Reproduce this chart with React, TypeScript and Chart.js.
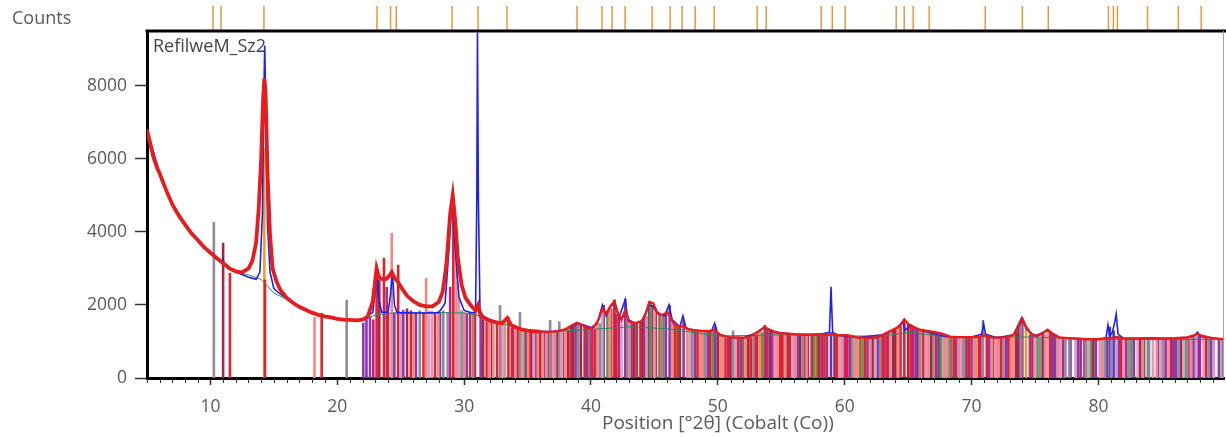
import { useEffect, useRef } from 'react';
import { Chart, registerables } from 'chart.js';

Chart.register(...registerables);

const sampleName = 'RefilweM_Sz2';
const countsLabel = 'Counts';
const xTitle = 'Position [°2θ] (Cobalt (Co))';

const xMin = 5;
const xMax = 89.9;
const yMax = 9500;
const xTickValues = [10, 20, 30, 40, 50, 60, 70, 80];
const yTickValues = [0, 2000, 4000, 6000, 8000];

// reference-pattern markers drawn above the plot
const markerPositions = [
  10.2, 10.83, 14.22, 23.13, 24.2, 24.65, 29.05, 31.1, 33.38, 38.9, 40.87, 41.66, 42.69,
  44.82, 46.24, 47.18, 48.21, 49.71, 53.1, 53.81, 58.15, 59.02, 60.04, 64.06, 64.69, 65.4,
  66.66, 71.08, 74.0, 76.05, 80.79, 81.18, 81.5, 83.87, 86.3, 88.1,
];

// observed pattern [2θ, counts]
const observed: [number, number][] = [
  [5.0, 6800], [5.2, 6500], [5.5, 6050], [5.8, 5750], [6.0, 5600], [6.5, 5150], [7.0, 4750],
  [7.5, 4450], [8.0, 4200], [8.5, 3960], [9.0, 3780], [9.5, 3580], [10.0, 3430], [10.5, 3280],
  [11.0, 3150], [11.5, 3000], [12.0, 2920], [12.5, 2890], [13.0, 3000], [13.3, 3200],
  [13.6, 3700], [13.8, 4600], [14.0, 6000], [14.15, 7600], [14.25, 8200], [14.35, 7800],
  [14.5, 5600], [14.7, 3900], [14.9, 3000], [15.2, 2650], [15.5, 2420], [16.0, 2200],
  [16.5, 2060], [17.0, 1950], [17.5, 1870], [18.0, 1790], [18.5, 1730], [19.0, 1690],
  [19.5, 1660], [20.0, 1620], [20.5, 1600], [21.0, 1590], [21.5, 1580], [22.0, 1600],
  [22.4, 1680], [22.8, 2100], [23.1, 3000], [23.3, 2750], [23.6, 2700], [23.9, 2720],
  [24.2, 2850], [24.3, 2900], [24.5, 2750], [24.8, 2620], [25.0, 2500], [25.5, 2250],
  [26.0, 2100], [26.5, 2000], [27.0, 1960], [27.5, 1960], [28.0, 2080], [28.3, 2350],
  [28.6, 3100], [28.9, 4500], [29.1, 5000], [29.3, 4300], [29.5, 3300], [29.8, 2550],
  [30.1, 2200], [30.5, 2000], [30.9, 1850], [31.1, 2000], [31.3, 1700], [31.8, 1600],
  [32.5, 1520], [33.0, 1500], [33.4, 1640], [33.7, 1450], [34.0, 1400], [34.5, 1330],
  [35.0, 1300], [35.5, 1280], [36.0, 1270], [36.5, 1260], [37.0, 1270], [37.5, 1290],
  [38.0, 1340], [38.5, 1440], [38.9, 1510], [39.3, 1450], [39.7, 1370], [40.2, 1380],
  [40.6, 1600], [40.9, 1900], [41.2, 1750], [41.5, 1950], [41.85, 2100], [42.1, 1800],
  [42.4, 1600], [42.7, 1850], [43.0, 1550], [43.5, 1500], [44.0, 1560], [44.3, 1750],
  [44.6, 2080], [44.9, 2050], [45.2, 1800], [45.6, 1720], [46.0, 1800], [46.2, 1700],
  [46.6, 1450], [47.0, 1400], [47.3, 1420], [47.7, 1330], [48.2, 1300], [48.8, 1290],
  [49.3, 1280], [49.7, 1320], [50.2, 1180], [50.8, 1120], [51.5, 1110], [52.0, 1100],
  [52.5, 1120], [53.0, 1230], [53.4, 1320], [53.7, 1400], [54.0, 1330], [54.5, 1260],
  [55.0, 1230], [56.0, 1200], [57.0, 1180], [58.0, 1200], [58.5, 1180], [59.0, 1200],
  [59.5, 1170], [60.2, 1170], [61.0, 1110], [62.0, 1100], [62.5, 1110], [63.0, 1180],
  [63.5, 1270], [64.0, 1350], [64.4, 1450], [64.7, 1600], [65.0, 1480], [65.4, 1400],
  [65.8, 1330], [66.3, 1300], [67.0, 1260], [67.6, 1220], [68.3, 1130], [69.0, 1120],
  [70.0, 1120], [70.7, 1130], [71.0, 1180], [71.4, 1120], [72.0, 1100], [72.8, 1120],
  [73.3, 1180], [73.7, 1400], [74.0, 1620], [74.3, 1400], [74.7, 1200], [75.2, 1150],
  [75.7, 1250], [76.0, 1320], [76.4, 1200], [77.0, 1100], [78.0, 1080], [79.0, 1060],
  [80.0, 1060], [80.5, 1080], [81.0, 1100], [81.5, 1120], [82.0, 1080], [83.0, 1080],
  [84.0, 1090], [85.0, 1080], [86.0, 1090], [87.0, 1110], [87.8, 1200], [88.2, 1150],
  [89.0, 1090], [89.9, 1060],
];

// calculated profile [2θ, counts]
const calculated: [number, number][] = [
  [5.0, 6800], [6.0, 5600], [7.0, 4750], [8.0, 4200], [9.0, 3780], [10.0, 3430], [10.9, 3150],
  [11.0, 3250], [11.1, 3100], [12.0, 2900], [13.0, 2760], [13.6, 2700], [13.9, 2900],
  [14.1, 4500], [14.2, 7500], [14.28, 9100], [14.38, 7000], [14.5, 4200], [14.7, 2900],
  [15.0, 2450], [15.5, 2300], [16.0, 2180], [17.0, 1950], [18.0, 1790], [19.0, 1690],
  [20.0, 1620], [21.0, 1590], [22.0, 1600], [22.5, 1720], [22.8, 1800], [23.0, 2400],
  [23.1, 3000], [23.25, 2200], [23.5, 1800], [24.0, 1800], [24.2, 2300], [24.35, 2900],
  [24.5, 2000], [24.7, 1800], [25.0, 1790], [26.0, 1780], [27.0, 1780], [28.0, 1790],
  [28.5, 2050], [28.8, 3500], [29.05, 5000], [29.3, 3500], [29.6, 2200], [30.0, 1850],
  [30.5, 1790], [30.9, 1800], [31.0, 5000], [31.05, 9450], [31.12, 5000], [31.25, 1850],
  [31.5, 1700], [32.0, 1600], [33.0, 1500], [33.4, 1630], [33.7, 1450], [34.0, 1400],
  [35.0, 1300], [36.0, 1270], [37.0, 1270], [38.0, 1330], [39.0, 1500], [40.0, 1380],
  [40.5, 1500], [40.9, 2000], [41.2, 1700], [41.5, 1950], [41.85, 2050], [42.2, 1650],
  [42.7, 2150], [42.9, 1600], [43.5, 1500], [44.0, 1550], [44.6, 2000], [44.9, 1950],
  [45.3, 1750], [45.8, 1700], [46.15, 2000], [46.4, 1600], [47.0, 1400], [47.25, 1700],
  [47.5, 1350], [48.5, 1300], [49.5, 1280], [49.75, 1500], [50.0, 1200], [51.0, 1110],
  [52.0, 1100], [53.0, 1230], [53.7, 1380], [54.5, 1250], [56.0, 1200], [58.0, 1190],
  [58.8, 1250], [58.92, 2500], [59.05, 1250], [59.5, 1170], [61.0, 1110], [63.0, 1180],
  [64.0, 1340], [64.6, 1550], [64.75, 1300], [65.2, 1450], [66.0, 1300], [68.0, 1130],
  [70.0, 1120], [70.8, 1200], [70.95, 1480], [71.1, 1200], [72.0, 1100], [73.3, 1180],
  [73.95, 1650], [74.3, 1350], [75.0, 1150], [76.0, 1300], [77.0, 1100], [80.0, 1060],
  [80.6, 1100], [80.75, 1450], [80.9, 1150], [81.1, 1250], [81.3, 1550], [81.4, 1750],
  [81.55, 1200], [82.0, 1080], [84.0, 1090], [86.0, 1090], [87.5, 1130], [87.8, 1250],
  [88.1, 1130], [89.9, 1060],
];

// background [2θ, counts]
const background: [number, number][] = [
  [5.0, 6800], [6.0, 5600], [7.0, 4750], [8.0, 4200], [9.0, 3780], [10.0, 3430], [11.0, 3100],
  [12.0, 2900], [13.0, 2820], [14.0, 2700], [15.0, 2330], [16.0, 2150], [17.0, 1950],
  [18.0, 1790], [19.0, 1690], [20.0, 1620], [21.0, 1590], [22.0, 1600], [23.0, 1720],
  [24.0, 1770], [26.0, 1780], [28.0, 1790], [30.0, 1780], [31.0, 1720], [32.0, 1600],
  [33.0, 1500], [35.0, 1300], [37.0, 1270], [40.0, 1330], [43.0, 1400], [46.0, 1350],
  [50.0, 1150], [55.0, 1180], [60.0, 1150], [63.0, 1150], [65.0, 1250], [68.0, 1130],
  [75.0, 1120], [80.0, 1060], [89.9, 1060],
];

// reference sticks [2θ, height] by colour group
const sticksGray: [number, number][] = [
  [10.27, 4270], [20.74, 2140], [26.5, 1850], [28.36, 1850], [28.7, 1800], [29.8, 1850],
  [30.7, 1780], [32.83, 2000], [34.4, 1810], [36.78, 1590], [37.5, 1550], [39.0, 1480],
  [40.7, 1500], [45.6, 1700], [48.0, 1350], [49.0, 1280], [51.2, 1300], [52.8, 1150],
  [56.7, 1180], [60.6, 1150], [62.8, 1130], [65.9, 1300], [67.0, 1200], [68.2, 1100],
  [69.4, 1100], [70.9, 1590], [72.5, 1080], [73.9, 1500], [75.4, 1100], [77.4, 1060],
  [77.7, 1060], [79.0, 1040], [80.5, 1050], [81.0, 1090], [82.4, 1050], [84.0, 1080],
  [85.1, 1050], [86.3, 1060], [87.0, 1090], [88.7, 1060], [89.8, 1040],
];
const sticksRed: [number, number][] = [
  [11.54, 2880], [14.3, 2700], [18.77, 1780], [23.1, 3100], [23.68, 3290], [24.0, 1800],
  [24.8, 3100], [25.8, 1850], [26.8, 1800], [27.7, 1780], [29.15, 4880], [30.47, 1800],
  [30.86, 1780], [31.78, 1550], [32.6, 1500], [33.49, 1670], [33.76, 1380], [34.2, 1350],
  [35.2, 1280], [35.9, 1250], [36.9, 1260], [37.8, 1270], [38.4, 1400], [39.5, 1400],
  [40.3, 1350], [41.6, 1900], [42.0, 1750], [43.6, 1480], [43.9, 1530], [44.9, 2000],
  [45.1, 1900], [46.6, 1420], [46.9, 1380], [47.9, 1310], [48.4, 1280], [49.4, 1260],
  [50.6, 1100], [50.9, 1110], [51.6, 1100], [52.6, 1100], [52.9, 1180], [53.1, 1200],
  [53.7, 1450], [54.9, 1220], [55.1, 1220], [55.7, 1200], [56.9, 1170], [57.4, 1180],
  [58.2, 1180], [58.6, 1180], [59.4, 1160], [60.2, 1150], [61.6, 1100], [62.9, 1150],
  [63.0, 1150], [63.3, 1200], [64.4, 1420], [64.7, 1560], [65.2, 1430], [66.2, 1280],
  [67.2, 1240], [68.6, 1110], [69.3, 1110], [69.8, 1100], [70.6, 1110], [71.2, 1150],
  [71.7, 1100], [72.3, 1100], [73.0, 1110], [74.8, 1180], [76.2, 1250], [78.9, 1060],
  [81.8, 1080], [85.7, 1080], [88.5, 1120],
];
const sticksSalmon: [number, number][] = [
  [18.2, 1670], [24.29, 3970], [26.0, 1780], [27.0, 2740], [27.97, 1850], [29.4, 3700],
  [30.0, 1800], [31.95, 1600], [32.3, 1550], [33.2, 1480], [34.05, 1400], [34.6, 1320],
  [35.04, 1280], [35.8, 1260], [36.2, 1250], [36.5, 1250], [37.17, 1260], [38.0, 1330],
  [40.5, 1500], [41.5, 1900], [43.0, 1540], [44.4, 1700], [46.4, 1550], [47.6, 1320],
  [48.6, 1280], [48.8, 1270], [50.2, 1150], [50.4, 1140], [52.2, 1090], [53.3, 1300],
  [54.7, 1240], [55.3, 1210], [56.1, 1190], [57.0, 1180], [59.8, 1150], [60.8, 1120],
  [61.0, 1100], [62.0, 1100], [63.6, 1250], [64.2, 1380], [66.0, 1300], [66.6, 1250],
  [67.8, 1180], [68.0, 1140], [69.0, 1100], [70.2, 1100], [70.4, 1110], [71.6, 1100],
  [72.1, 1090], [73.1, 1120], [73.3, 1150], [75.8, 1200], [76.8, 1100], [80.3, 1060],
  [83.5, 1060], [84.6, 1080], [87.3, 1100],
];
const sticksMaroon: [number, number][] = [
  [11.0, 3700], [23.31, 2690], [25.5, 1900], [31.5, 1600], [32.2, 1550], [35.3, 1270],
  [36.0, 1260], [37.3, 1260], [38.2, 1320], [38.6, 1420], [39.2, 1450], [41.85, 2140],
  [43.4, 1500], [44.0, 1530], [47.0, 1390], [50.0, 1200], [51.0, 1100], [52.4, 1110],
  [54.1, 1300], [55.5, 1210], [56.5, 1180], [58.0, 1190], [59.2, 1180], [62.2, 1090],
  [63.8, 1330], [64.0, 1320], [65.0, 1460], [65.8, 1310], [66.8, 1250], [69.6, 1110],
  [73.5, 1250], [73.7, 1380], [75.6, 1230], [79.6, 1060], [83.3, 1080], [86.5, 1090],
];
const sticksPurple: [number, number][] = [
  [22.05, 1510], [22.3, 1600], [22.58, 1670], [23.9, 2490], [24.5, 1800], [25.2, 1860],
  [26.2, 1800], [28.1, 1800], [30.2, 1780], [31.3, 1700], [33.88, 1450], [34.3, 1340],
  [34.9, 1300], [35.67, 1260], [36.3, 1260], [38.8, 1480], [39.7, 1360], [41.0, 2000],
  [42.7, 2160], [43.2, 1500], [44.2, 1700], [45.9, 1780], [46.2, 2000], [47.3, 1590],
  [48.2, 1300], [49.2, 1260], [49.8, 1400], [50.8, 1110], [51.8, 1090], [53.9, 1350],
  [56.3, 1190], [57.1, 1160], [58.4, 1180], [60.4, 1150], [61.8, 1090], [62.6, 1100],
  [63.4, 1250], [65.6, 1380], [68.8, 1110], [70.0, 1110], [71.4, 1100], [72.0, 1080],
  [72.9, 1100], [74.6, 1180], [76.4, 1180], [76.6, 1150], [77.8, 1060], [78.4, 1060],
  [79.8, 1040], [80.7, 1080], [81.6, 1100], [82.8, 1060], [83.6, 1080], [84.7, 1060],
  [85.9, 1060], [86.1, 1090], [87.5, 1100], [88.9, 1090], [89.5, 1050],
];
const sticksMagenta: [number, number][] = [
  [22.84, 1600], [28.9, 2500], [36.6, 1250], [40.1, 1360], [42.2, 1650], [48.9, 1270],
  [54.3, 1270], [60.0, 1160], [63.1, 1160], [65.4, 1400], [66.9, 1250], [70.7, 1110],
  [72.7, 1110], [74.0, 1650], [77.2, 1060], [78.6, 1050], [82.2, 1070], [85.3, 1080],
  [87.1, 1080], [88.0, 1180],
];
const sticksPink: [number, number][] = [
  [25.0, 1790], [27.2, 1850], [27.45, 1850], [29.6, 2200], [32.0, 1550], [33.0, 1500],
  [35.5, 1270], [37.0, 1260], [37.7, 1300], [38.98, 1480], [40.9, 1800], [42.4, 1580],
  [45.0, 1950], [47.8, 1320], [51.4, 1100], [54.5, 1250], [55.9, 1200], [59.6, 1160],
  [62.4, 1100], [66.4, 1280], [69.2, 1110], [71.9, 1090], [75.0, 1120], [76.0, 1280],
  [77.0, 1070], [78.2, 1050], [79.2, 1050], [80.1, 1050], [81.4, 1100], [82.0, 1060],
  [83.1, 1060], [84.3, 1060], [84.9, 1080], [85.5, 1060], [86.7, 1070], [87.7, 1150],
  [88.3, 1100], [89.1, 1070], [89.7, 1050],
];
const sticksGreen: [number, number][] = [
  [34.8, 1300], [41.3, 1850], [42.9, 1700], [44.7, 2080], [46.8, 1400], [49.6, 1280],
  [53.5, 1250], [57.6, 1170], [61.4, 1090], [67.6, 1200], [75.2, 1120], [79.4, 1080],
  [82.6, 1070], [83.9, 1120], [86.9, 1090],
];
const sticksBrown: [number, number][] = [
  [39.9, 1370], [45.4, 1780], [45.7, 1720], [52.0, 1100], [57.8, 1180], [61.2, 1100],
  [68.4, 1120], [76.3, 1200],
];
const sticksOrange: [number, number][] = [[14.25, 6300], [74.3, 1350]];
const sticksBlue: [number, number][] = [
  [44.6, 1950], [58.92, 1250], [67.4, 1150], [80.9, 1400], [81.2, 1300], [87.9, 1150],
];

const stickGroups: [[number, number][], string][] = [
  [sticksGray, '#8c8c9c'],
  [sticksSalmon, '#f08a80'],
  [sticksPink, '#d89ac8'],
  [sticksRed, '#e4202c'],
  [sticksMaroon, '#a02848'],
  [sticksPurple, '#8a3aa8'],
  [sticksMagenta, '#c0208c'],
  [sticksGreen, '#5a9a48'],
  [sticksBrown, '#a8643c'],
  [sticksOrange, '#f0a020'],
  [sticksBlue, '#4a3ad0'],
];

const toXY = (arr: [number, number][]) => arr.map(([x, y]) => ({ x, y }));
const toSticks = (arr: [number, number][]) => {
  const out: { x: number; y: number | null }[] = [];
  for (const [x, h] of arr) {
    out.push({ x, y: 0 }, { x, y: h }, { x, y: null });
  }
  return out;
};

const FONT = '"Open Sans", "DejaVu Sans", sans-serif';
const TEXT_COLOR = '#5a5a5a';

const decor = {
  id: 'decor',
  beforeDatasetsDraw(chart: any) {
    const { ctx, chartArea } = chart;
    ctx.save();
    ctx.font = `18px ${FONT}`;
    ctx.fillStyle = '#444';
    ctx.textBaseline = 'middle';
    ctx.textAlign = 'left';
    ctx.fillText(sampleName, chartArea.left + 6, chartArea.top + 16);
    ctx.restore();
  },
  afterDraw(chart: any) {
    const { ctx, chartArea, scales } = chart;
    const xs = scales.x;
    ctx.save();
    ctx.strokeStyle = '#e49a3c';
    ctx.lineWidth = 1.5;
    for (const p of markerPositions) {
      const px = xs.getPixelForValue(p);
      ctx.beginPath();
      ctx.moveTo(px, 6);
      ctx.lineTo(px, chartArea.top - 1);
      ctx.stroke();
    }
    ctx.strokeStyle = '#000';
    ctx.lineWidth = 3;
    ctx.beginPath();
    ctx.moveTo(chartArea.left - 1.5, chartArea.top);
    ctx.lineTo(chart.width, chartArea.top);
    ctx.stroke();
    ctx.strokeStyle = '#a0a0a0';
    ctx.lineWidth = 1;
    ctx.beginPath();
    ctx.moveTo(chartArea.right - 0.5, chartArea.top);
    ctx.lineTo(chartArea.right - 0.5, chartArea.bottom);
    ctx.stroke();
    ctx.strokeStyle = '#333';
    ctx.lineWidth = 1;
    for (let v = Math.ceil(xMin); v <= Math.floor(xMax); v++) {
      if (xTickValues.includes(v)) continue;
      const px = Math.round(xs.getPixelForValue(v)) + 0.5;
      ctx.beginPath();
      ctx.moveTo(px, chartArea.bottom + 1);
      ctx.lineTo(px, chartArea.bottom + 5);
      ctx.stroke();
    }
    ctx.fillStyle = TEXT_COLOR;
    ctx.textBaseline = 'middle';
    ctx.font = `18px ${FONT}`;
    ctx.textAlign = 'left';
    ctx.fillText(countsLabel, 12, 19);
    // axis title (the original plot extends past the crop, so it sits right of centre)
    ctx.font = `19px ${FONT}`;
    ctx.textAlign = 'center';
    ctx.fillText(xTitle, xs.getPixelForValue(50), 424);
    ctx.restore();
  },
};

export default function App() {
  const ref = useRef<HTMLCanvasElement>(null);
  useEffect(() => {
    if (!ref.current) return;
    const datasets: any[] = [
      {
        label: 'observed',
        data: toXY(observed),
        borderColor: '#e81c1c',
        borderWidth: 3.6,
        segment: {
          borderWidth: (c: any) => (c.p0.parsed.x < 36 ? 3.8 : 2.4),
        },
        pointRadius: 0,
        order: 0,
      },
      {
        label: 'calculated',
        data: toXY(calculated),
        borderColor: '#2020ee',
        borderWidth: 1.6,
        pointRadius: 0,
        order: 1,
      },
      {
        label: 'background',
        data: toXY(background),
        borderColor: '#2a8a58',
        borderWidth: 1,
        pointRadius: 0,
        order: 2,
      },
      ...stickGroups.map(([arr, color], i) => ({
        label: 'sticks' + i,
        data: toSticks(arr),
        borderColor: color,
        borderWidth: 2.6,
        borderCapStyle: 'butt',
        pointRadius: 0,
        spanGaps: false,
        order: 3 + i,
      })),
    ];
    const chart = new Chart(ref.current, {
      type: 'line',
      data: { datasets },
      options: {
        animation: false,
        responsive: false,
        maintainAspectRatio: false,
        events: [],
        layout: { padding: { top: 31, right: 2, left: 0, bottom: 0 } },
        plugins: { legend: { display: false }, tooltip: { enabled: false } },
        elements: { line: { tension: 0 } },
        scales: {
          x: {
            type: 'linear',
            min: xMin,
            max: xMax,
            afterBuildTicks: (s: any) => { s.ticks = xTickValues.map((v) => ({ value: v })); },
            afterFit: (s: any) => { s.height = 59; },
            border: { color: '#000', width: 3 },
            grid: { drawOnChartArea: false, drawTicks: true, tickLength: 7, tickColor: '#333', tickWidth: 1.5 },
            ticks: {
              autoSkip: false,
              maxRotation: 0,
              padding: 12,
              color: TEXT_COLOR,
              font: { family: FONT, size: 17.5 },
              callback: (v: any) => String(v),
            },
          },
          y: {
            type: 'linear',
            min: 0,
            max: yMax,
            afterBuildTicks: (s: any) => { s.ticks = yTickValues.map((v) => ({ value: v })); },
            afterFit: (s: any) => { s.width = 147; },
            border: { color: '#000', width: 3 },
            grid: { drawOnChartArea: false, drawTicks: true, tickLength: 12, tickColor: '#333', tickWidth: 1.5 },
            ticks: {
              autoSkip: false,
              padding: 8,
              color: TEXT_COLOR,
              font: { family: FONT, size: 17.5 },
              callback: (v: any) => String(v),
            },
          },
        },
      },
      plugins: [decor],
    });
    return () => chart.destroy();
  }, []);
  return (
    <div style={{ position: 'absolute', left: 0, top: 0, width: 1226, height: 437, background: '#fff' }}>
      <canvas ref={ref} width={1226} height={437} style={{ width: 1226, height: 437, display: 'block' }} />
    </div>
  );
}
